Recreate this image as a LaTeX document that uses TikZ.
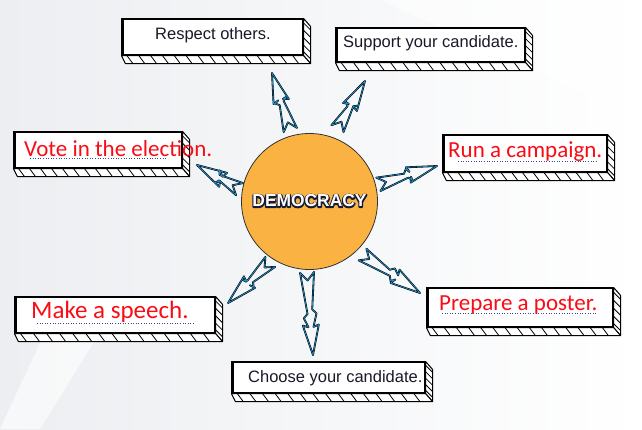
\documentclass[tikz,border=0pt]{standalone}
\usepackage{fontspec}
\setmainfont{Liberation Sans}
\newfontfamily\redfont{Carlito}
\usetikzlibrary{calc}
\definecolor{orng}{RGB}{250,178,66}
\definecolor{arblue}{RGB}{30,144,205}
\definecolor{dotblue}{RGB}{55,75,150}
\definecolor{txt}{RGB}{25,25,40}
\definecolor{redt}{RGB}{250,12,22}
\definecolor{bgl}{RGB}{236,238,241}
\definecolor{navy}{RGB}{20,28,55}
\newcommand\strokedtext[1]{\special{pdf:literal direct 0.08 0.11 0.22 RG 2.4 w 1 j 2 Tr}#1\special{pdf:literal direct 0 Tr 0.4 w 0 j}}
\tikzset{
  frontbox/.style={draw=black, line width=1.1pt, fill=white, inner sep=0pt},
  facebox/.style={draw=black, line width=1pt, fill=white, line join=round},
  hatch/.style={draw=black, line width=0.8pt},
  blacklabel/.style={text=txt, inner sep=0pt, anchor=base west, font=\fontsize{16.5}{19}\selectfont},
  redlabel/.style={text=redt, inner sep=0pt, anchor=base west, font=\redfont\fontsize{23}{27}\selectfont},
  dotline/.style={draw=dotblue, line width=1pt, dash pattern=on 1pt off 1.6pt},
  arrout/.style={draw=black, line width=1.8pt, line join=round},
  arrin/.style={draw=arblue, line width=0.7pt, line join=round},
  demfont/.style={font=\bfseries\fontsize{17.4}{20}\selectfont, inner sep=0pt},
}
% 3D label box: name, x1, y1, x2, y2
\newcommand\dbox[5]{%
  \node[frontbox, minimum width={(#4-#2)*1pt}, minimum height={(#5-#3)*1pt}] (#1) at ({(#2+#4)/2},{(#3+#5)/2}) {};
  \draw[facebox] (#1.north east) -- ++(7,8) -- ($(#1.south east)+(7,8)$) -- (#1.south east) -- cycle;
  \draw[facebox] (#1.south west) -- (#1.south east) -- ($(#1.south east)+(7,8)$) -- ($(#1.south west)+(4,8)$) -- cycle;
  \foreach \t in {0.03,0.095,...,0.99} \draw[hatch] ($(#1.south west)!\t!(#1.south east)$) -- ++(6,8);
  \foreach \t in {0.12,0.32,0.52,0.72,0.9} \draw[hatch] ($(#1.north east)!\t!(#1.south east)$) -- ++(7,7);
  \draw[line width=3.2pt] ($(#1.north west)+(1,0)$) -- ($(#1.south west)+(1,0)$);
}
% lightning arrow from tail #1 to tip #2
\newcommand\zarrow[2]{%
  \foreach \sty in {arrout,arrin}{%
  \draw[\sty] ($(#1)!7pt!90:(#2)$)
    -- ($(#1)!0.45!(#2)!2.5pt!90:(#2)$)
    -- ($(#1)!0.5!(#2)!6.5pt!90:(#2)$)
    -- ($(#2)!28pt!(#1)!2.5pt!-90:(#1)$)
    -- ($(#2)!30pt!(#1)!8pt!-90:(#1)$)
    -- (#2)
    -- ($(#2)!30pt!(#1)!8pt!90:(#1)$)
    -- ($(#2)!28pt!(#1)!2.5pt!90:(#1)$)
    -- ($(#1)!0.55!(#2)!6.5pt!-90:(#2)$)
    -- ($(#1)!0.5!(#2)!2.5pt!-90:(#2)$)
    -- ($(#1)!7pt!-90:(#2)$)
    -- ($(#1)!8pt!(#2)$) -- cycle;}
}
\begin{document}
\begin{tikzpicture}[x=1pt,y=-1pt]
\useasboundingbox (0,0) rectangle (642,429);
\shade[left color=bgl, right color=white, shading angle=90] (0,0) rectangle (642,429);
\fill[white, opacity=0.6] (0,429) -- (60,300) -- (120,300) -- (40,429) -- cycle;
\fill[white, opacity=0.5] (380,0) -- (642,0) -- (642,120) -- cycle;

% boxes
\dbox{b1}{122}{19}{303}{55}
\dbox{b2}{336}{28}{525}{62}
\dbox{b3}{14}{132}{182}{168}
\dbox{b4}{443}{135}{607}{172}
\dbox{b5}{15}{297}{215}{333}
\dbox{b6}{427}{288}{613}{327}
\dbox{b7}{232}{362}{425}{393}

% labels
\node[blacklabel] (t1) at (155,39) {Respect others.};
\node[blacklabel] (t2) at (343,47.3) {Support your candidate.};
\node[redlabel] (t3) at (24,156.7) {Vote in the election.};
\node[redlabel] (t4) at (448,157.3) {Run a campaign.};
\node[redlabel, font=\redfont\fontsize{25}{29}\selectfont] (t5) at (31,318.3) {Make a speech.};
\node[redlabel] (t6) at (439,310.7) {Prepare a poster.};
\node[blacklabel] (t7) at (248,382.7) {Choose your candidate.};

\draw[dotline] (30,158) -- (167,158);
\draw[dotline] (458,161) -- (598,161);
\draw[dotline] (37,323) -- (195,323);
\draw[dotline] (442,313) -- (597,313);

% centre
\node[circle, draw=black!80, line width=0.8pt, fill=orng, minimum size=136pt, inner sep=0pt] (c) at (309.5,201.5) {};
\node[demfont, text=navy] (dtu) at (309.5,201) {\strokedtext{DEMOCRACY}};
\node[demfont, text=white] (dt) at (dtu) {DEMOCRACY};

% arrow ends
\coordinate (s1) at ($(c.center)!74pt!(c.105)$);
\coordinate (s2) at ($(c.center)!78pt!(c.69)$);
\coordinate (s3) at ($(c.center)!71pt!(c.170)$);
\coordinate (s4) at ($(c.center)!71pt!(c.14)$);
\coordinate (s5) at ($(c.center)!72pt!(c.237)$);
\coordinate (s6) at ($(c.center)!71pt!(c.268)$);
\coordinate (s7) at ($(c.center)!75pt!(c.315)$);
\coordinate (e1) at (272,73);
\coordinate (e2) at (365,81);
\coordinate (e3) at (197,165);
\coordinate (e4) at (437,166);
\coordinate (e5) at (228,303);
\coordinate (e6) at (313,355);
\coordinate (e7) at (420,293);
\zarrow{s1}{e1}
\zarrow{s2}{e2}
\zarrow{s3}{e3}
\zarrow{s4}{e4}
\zarrow{s5}{e5}
\zarrow{s6}{e6}
\zarrow{s7}{e7}
\end{tikzpicture}
\end{document}
